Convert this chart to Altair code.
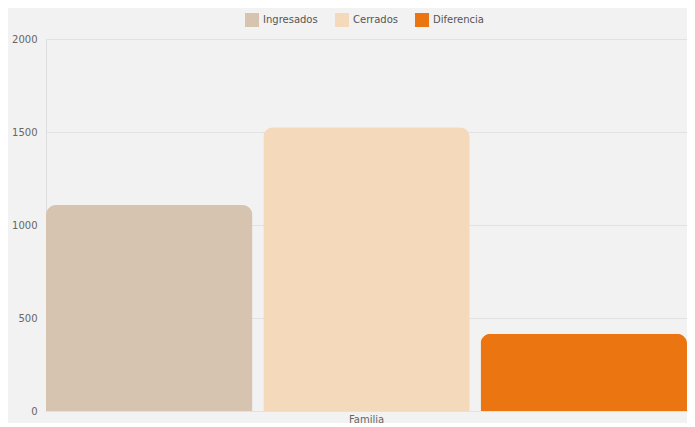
import altair as alt
import pandas as pd

categories = ["Familia", "Familia", "Familia"]
series = ["Ingresados", "Cerrados", "Diferencia"]
values = [1107, 1525, 415]
colors = ["#d7c4b0", "#f5d9bb", "#eb7511"]

df = pd.DataFrame({"cat": categories, "serie": series, "valor": values})

chart = alt.Chart(df).mark_bar(
    cornerRadiusTopLeft=10, cornerRadiusTopRight=10
).encode(
    x=alt.X("cat:N", title=None,
            scale=alt.Scale(paddingInner=0, paddingOuter=0),
            axis=alt.Axis(labelAngle=0, ticks=False, domain=False,
                          labelColor="#666666", labelFontSize=10, labelPadding=3)),
    xOffset=alt.XOffset("serie:N", sort=series,
                        scale=alt.Scale(paddingInner=0.05, paddingOuter=0)),
    y=alt.Y("valor:Q", title=None,
            scale=alt.Scale(domain=[0, 2000]),
            axis=alt.Axis(values=[0, 500, 1000, 1500, 2000], format="d",
                          ticks=False, domain=False,
                          labelColor="#666666", labelFontSize=10, labelPadding=9,
                          gridColor="#e2e2e2")),
    color=alt.Color("serie:N", sort=series,
                    scale=alt.Scale(domain=series, range=colors),
                    legend=alt.Legend(title=None, orient="none", direction="horizontal",
                                      legendX=199, legendY=-26,
                                      symbolType="square",
                                      symbolSize=196, symbolStrokeWidth=0,
                                      labelFontSize=10, labelColor="#555555",
                                      labelOffset=4, columnPadding=17)),
).properties(
    width=641, height=372,
    autosize=alt.AutoSizeParams(type="none"),
    padding={"left": 38, "top": 31, "right": 0, "bottom": 12},
    background="#f2f2f2",
).configure_view(stroke=None).configure(font="DejaVu Sans")

chart.save("out.html", embed_options={"renderer": "svg", "actions": False})
